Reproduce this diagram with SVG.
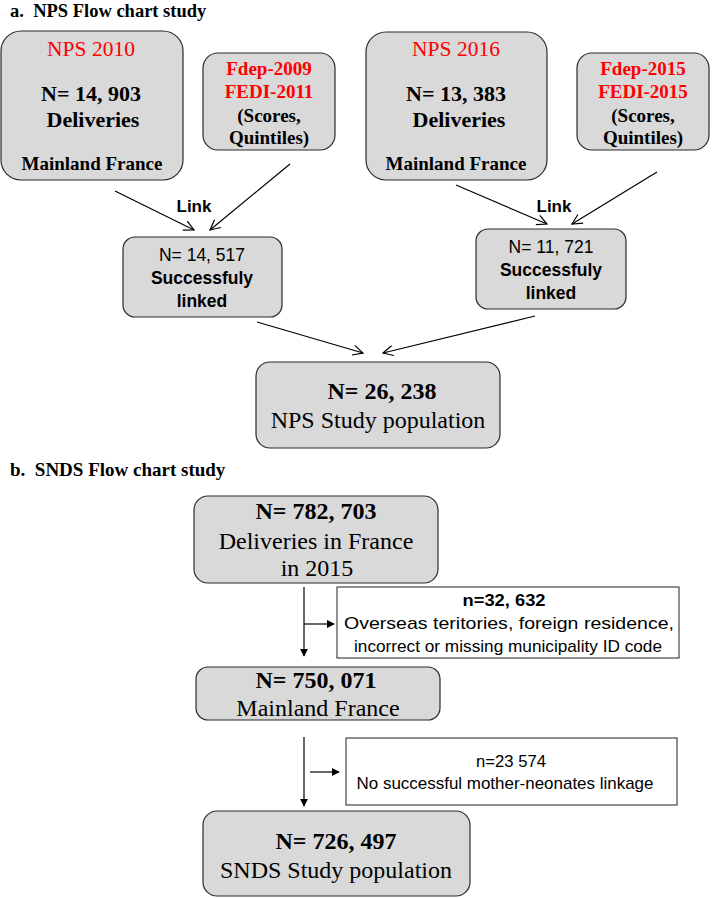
<svg xmlns="http://www.w3.org/2000/svg" width="712" height="898" viewBox="0 0 712 898">
<style>
.box{fill:#d9d9d9;stroke:#2b2b2b;stroke-width:1.2}
.ex{fill:#fff;stroke:#444;stroke-width:1.2}
.ser{font-family:"Liberation Serif","Times New Roman",serif;text-anchor:middle;fill:#000}
.sb{font-family:"Liberation Serif","Times New Roman",serif;font-weight:bold;text-anchor:middle;fill:#000}
.san{font-family:"Liberation Sans",Arial,sans-serif;text-anchor:middle;fill:#000}
.red{fill:#ff0000}
.ln{stroke:#000;stroke-width:1.2;fill:none}
</style>
<defs>
<marker id="open" viewBox="0 0 12 12" refX="11" refY="6" markerWidth="12" markerHeight="12" markerUnits="userSpaceOnUse" orient="auto">
<path d="M1,1 L11,6 L1,11" fill="none" stroke="#000" stroke-width="1.2"/>
</marker>
<marker id="fill" viewBox="0 0 10 10" refX="9" refY="5" markerWidth="8" markerHeight="8" markerUnits="userSpaceOnUse" orient="auto">
<path d="M0,0 L10,5 L0,10 Z" fill="#000"/>
</marker>
</defs>

<text x="10" y="17" font-family="Liberation Serif,serif" font-weight="bold" font-size="18.5" xml:space="preserve">a.  NPS Flow chart study</text>
<text x="10" y="476" font-family="Liberation Serif,serif" font-weight="bold" font-size="19" xml:space="preserve">b.  SNDS Flow chart study</text>

<g id="nps2010">
<rect class="box" x="1" y="31" width="182" height="149" rx="20"/>
<text class="ser red" x="91" y="56" font-size="21.5">NPS 2010</text>
<text class="sb" x="91" y="101" font-size="22">N= 14, 903</text>
<text class="sb" x="93" y="127" font-size="22">Deliveries</text>
<text class="sb" x="92" y="170" font-size="19">Mainland France</text>
</g>

<g id="fdep2009">
<rect class="box" x="203" y="53" width="132" height="97" rx="15"/>
<text class="sb red" x="269" y="75" font-size="19">Fdep-2009</text>
<text class="sb red" x="269" y="98" font-size="19">FEDI-2011</text>
<text class="sb" x="269" y="122" font-size="19">(Scores,</text>
<text class="sb" x="269" y="144" font-size="19">Quintiles)</text>
</g>

<g id="nps2016">
<rect class="box" x="366" y="32" width="181" height="148" rx="20"/>
<text class="ser red" x="456" y="56" font-size="21.5">NPS 2016</text>
<text class="sb" x="456" y="101" font-size="22">N= 13, 383</text>
<text class="sb" x="459" y="127" font-size="22">Deliveries</text>
<text class="sb" x="456" y="170" font-size="19">Mainland France</text>
</g>

<g id="fdep2015">
<rect class="box" x="577" y="53" width="132" height="97" rx="15"/>
<text class="sb red" x="643" y="75" font-size="19">Fdep-2015</text>
<text class="sb red" x="643" y="98" font-size="19">FEDI-2015</text>
<text class="sb" x="643" y="122" font-size="19">(Scores,</text>
<text class="sb" x="643" y="144" font-size="19">Quintiles)</text>
</g>

<g id="linked2010">
<rect class="box" x="123" y="237" width="159" height="80" rx="12"/>
<text class="san" x="202" y="261" font-size="17.5">N= 14, 517</text>
<text class="san" x="202" y="284" font-size="17.5" font-weight="bold">Successfuly</text>
<text class="san" x="202" y="307" font-size="17.5" font-weight="bold">linked</text>
</g>

<g id="linked2016">
<rect class="box" x="476" y="229" width="150" height="80" rx="12"/>
<text class="san" x="551" y="253" font-size="17.5">N= 11, 721</text>
<text class="san" x="551" y="276" font-size="17.5" font-weight="bold">Successfuly</text>
<text class="san" x="551" y="299" font-size="17.5" font-weight="bold">linked</text>
</g>

<g id="npsstudy">
<rect class="box" x="256" y="362" width="244" height="86" rx="14"/>
<text class="sb" x="382" y="399" font-size="24">N= 26, 238</text>
<text class="ser" x="378" y="428" font-size="24">NPS Study population</text>
</g>

<g id="snds2015">
<rect class="box" x="194" y="496" width="244" height="87" rx="14"/>
<text class="sb" x="316" y="519" font-size="24">N= 782, 703</text>
<text class="ser" x="316" y="549" font-size="24">Deliveries in France</text>
<text class="ser" x="317" y="576" font-size="24">in 2015</text>
</g>

<g id="excl1">
<rect class="ex" x="337" y="587" width="342" height="71"/>
<text class="san" x="504" y="606" font-size="17" font-weight="bold" textLength="83" lengthAdjust="spacingAndGlyphs">n=32, 632</text>
<text class="san" x="509" y="629" font-size="17" textLength="330" lengthAdjust="spacingAndGlyphs">Overseas teritories, foreign residence,</text>
<text class="san" x="508" y="652" font-size="17" textLength="308" lengthAdjust="spacingAndGlyphs">incorrect or missing municipality ID code</text>
</g>

<g id="mainland">
<rect class="box" x="196" y="667" width="244" height="53" rx="12"/>
<text class="sb" x="316" y="688" font-size="24">N= 750, 071</text>
<text class="ser" x="318" y="716" font-size="24">Mainland France</text>
</g>

<g id="excl2">
<rect class="ex" x="346" y="738" width="331" height="67"/>
<text class="san" x="511" y="767" font-size="17" textLength="70" lengthAdjust="spacingAndGlyphs">n=23 574</text>
<text class="san" x="505" y="789" font-size="17" textLength="297" lengthAdjust="spacingAndGlyphs">No successful mother-neonates linkage</text>
</g>

<g id="sndsstudy">
<rect class="box" x="203" y="811" width="267" height="85" rx="14"/>
<text class="sb" x="336" y="849" font-size="24">N= 726, 497</text>
<text class="ser" x="336" y="878" font-size="24">SNDS Study population</text>
</g>

<g id="connectors">
<text class="san" x="194" y="212" font-size="17" font-weight="bold">Link</text>
<text class="san" x="554" y="212" font-size="17" font-weight="bold">Link</text>
<line class="ln" x1="115" y1="191" x2="194" y2="230" marker-end="url(#open)"/>
<line class="ln" x1="290" y1="164" x2="210" y2="230" marker-end="url(#open)"/>
<line class="ln" x1="456" y1="185" x2="547" y2="224" marker-end="url(#open)"/>
<line class="ln" x1="657" y1="172" x2="572" y2="224" marker-end="url(#open)"/>
<line class="ln" x1="257" y1="322" x2="363" y2="353" marker-end="url(#open)"/>
<line class="ln" x1="535" y1="316" x2="383" y2="353" marker-end="url(#open)"/>
<line class="ln" x1="304" y1="587" x2="304" y2="656" marker-end="url(#fill)"/>
<line class="ln" x1="304" y1="624" x2="334" y2="624" marker-end="url(#fill)"/>
<line class="ln" x1="304" y1="737" x2="304" y2="806" marker-end="url(#fill)"/>
<line class="ln" x1="310" y1="772" x2="339" y2="772" marker-end="url(#fill)"/>
</g>
</svg>
